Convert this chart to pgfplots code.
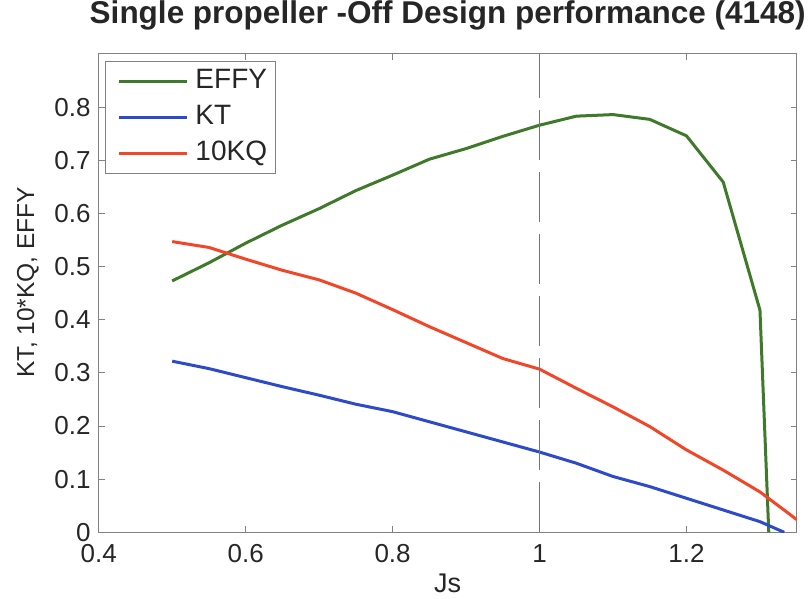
\documentclass[border=0pt]{standalone}
\usepackage{pgfplots}
\pgfplotsset{compat=1.18}
\usepackage{fontspec}
\setmainfont{Liberation Sans}
\definecolor{cgreen}{RGB}{62,122,42}
\definecolor{cblue}{RGB}{45,75,200}
\definecolor{cred}{RGB}{242,70,40}
\definecolor{caxis}{RGB}{130,130,130}
\begin{document}
\begin{tikzpicture}
\begin{axis}[name=ax, scale only axis, width=698pt, height=478.3pt,
  xmin=0.4, xmax=1.35, ymin=0, ymax=0.9,
  xtick={0.4,0.6,0.8,1,1.2}, ytick={0,0.1,0.2,0.3,0.4,0.5,0.6,0.7,0.8},
  tick align=inside, major tick length=6pt,
  axis line style={caxis, line width=1pt},
  every tick/.style={caxis, line width=1pt},
  /pgf/number format/assume math mode=true,
  ticklabel style={font=\fontsize{26}{26}\selectfont, text=black!85},
  xticklabel style={anchor=north, inner sep=0pt, yshift=-12pt},
  yticklabel style={anchor=east, inner sep=0pt, xshift=-8pt},
  xlabel={Js}, ylabel={KT, 10*KQ, EFFY},
  xlabel style={at={(axis description cs:0.5,-0.125)}, anchor=base, font=\fontsize{27}{27}\selectfont, text=black!85},
  ylabel style={at={(axis description cs:-0.1013,0.523)}, anchor=center, font=\fontsize{24.5}{24.5}\selectfont, text=black!85},
  title={Single propeller -Off Design performance (4148)},
  title style={at={(axis description cs:0.5,1.0502)}, anchor=base, inner sep=0pt, font=\bfseries\fontsize{31.5}{31.5}\selectfont, text=black!85},
  legend style={at={(axis description cs:0.009,0.986)}, anchor=north west, draw=caxis, line width=1pt, fill=white,
    inner xsep=5pt, inner ysep=2.65pt, row sep=0pt, font=\fontsize{28}{28}\selectfont, text=black!85,
    nodes={inner xsep=3pt, inner ysep=4.85pt, text height=20pt, text depth=6pt}},
  legend cell align=left,
  legend image code/.code={\path (0pt,0pt) (79pt,0pt); \draw[#1] (7pt,0pt) -- (75pt,0pt);},
]
\addplot[cgreen, line width=3pt] coordinates {
(0.5,0.473) (0.55,0.507) (0.6,0.544) (0.65,0.578) (0.7,0.609) (0.75,0.643) (0.8,0.672)
(0.85,0.702) (0.9,0.722) (0.95,0.745) (1.0,0.766) (1.05,0.783) (1.1,0.786) (1.15,0.777)
(1.2,0.746) (1.25,0.659) (1.3,0.418) (1.312,0)};
\addlegendentry{EFFY}
\addplot[cblue, line width=3pt] coordinates {
(0.5,0.322) (0.55,0.308) (0.6,0.291) (0.65,0.274) (0.7,0.258) (0.75,0.241) (0.8,0.227)
(0.85,0.208) (0.9,0.189) (0.95,0.170) (1.0,0.151) (1.05,0.130) (1.1,0.105) (1.15,0.086)
(1.2,0.064) (1.25,0.042) (1.3,0.020) (1.333,0)};
\addlegendentry{KT}
\addplot[cred, line width=3pt] coordinates {
(0.5,0.547) (0.55,0.536) (0.6,0.514) (0.65,0.493) (0.7,0.475) (0.75,0.450) (0.8,0.419)
(0.85,0.387) (0.9,0.357) (0.95,0.327) (1.0,0.307) (1.05,0.271) (1.1,0.236) (1.15,0.199)
(1.2,0.155) (1.25,0.117) (1.3,0.076) (1.35,0.024)};
\addlegendentry{10KQ}
\addplot[caxis!90!black, line width=1.1pt, dash pattern=on 50pt off 12pt, forget plot] coordinates {(1,0) (1,0.9)};
\end{axis}
\pgfresetboundingbox
\path[use as bounding box] ([xshift=-98.7pt,yshift=-66.7pt]ax.south west) rectangle ([xshift=15.3pt,yshift=54pt]ax.north east);
\end{tikzpicture}
\end{document}
